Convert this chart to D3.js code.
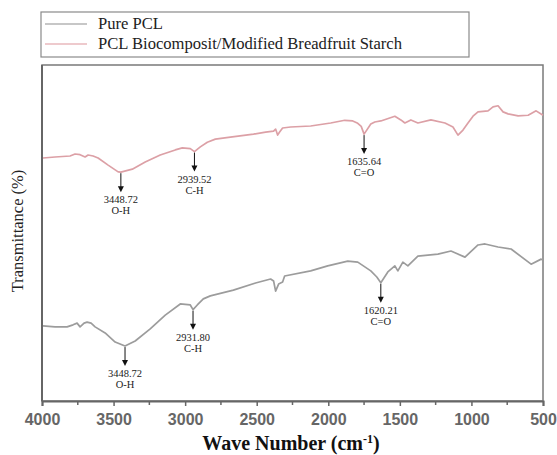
<!DOCTYPE html>
<html><head><meta charset="utf-8">
<script src="https://cdn.jsdelivr.net/npm/d3@7"></script>
<style>body{margin:0;background:#fff}</style>
</head><body><svg id="c" width="557" height="455"></svg>
<script>
const xTicks = [4000, 3500, 3000, 2500, 2000, 1500, 1000, 500];
const seriesNames = ["Pure PCL", "PCL Biocomposit/Modified Breadfruit Starch"];
const seriesColors = ["#9c9c9c", "#dca0a6"];
// PCL biocomposite (upper, pink) spectrum: wavenumber, transmittance (%)
const compWn = [3993,3909,3804,3769,3734,3699,3678,3643,3608,3538,3468,3449,3369,3279,3174,3069,3020,2964,2935,2894,2845,2789,2684,2522,2438,2382,2368,2354,2340,2319,2263,2123,1983,1885,1829,1794,1770,1750,1703,1675,1633,1535,1493,1465,1423,1374,1283,1185,1129,1094,1059,1024,989,954,884,849,814,779,744,674,604,548,500];
const compT  = [72.1,72.4,72.7,73.3,73.1,72.4,73.0,72.7,72.1,70.0,68.0,67.9,68.8,70.9,73.0,74.5,75.1,74.9,74.0,75.4,76.8,77.7,78.3,79.2,79.8,80.1,80.7,78.9,79.8,81.0,81.3,81.6,82.5,83.3,83.1,82.4,81.5,79.2,82.2,82.8,83.1,84.5,83.4,82.5,83.4,82.5,83.4,82.5,81.3,78.9,80.4,82.5,84.5,85.8,86.1,87.3,87.6,85.8,85.2,84.6,84.8,86.1,84.8];
// Pure PCL (lower, grey) spectrum
const pclWn = [3993,3909,3825,3783,3755,3734,3706,3685,3657,3629,3559,3489,3420,3349,3244,3139,3034,2964,2945,2915,2873,2824,2663,2508,2403,2382,2368,2347,2319,2305,2123,2004,1864,1794,1703,1661,1633,1584,1535,1514,1479,1444,1374,1234,1143,1045,954,905,814,723,583,513,500];
const pclT  = [22.3,22.0,22.0,22.6,23.1,22.0,23.1,23.4,23.1,22.0,20.2,17.5,16.3,17.8,21.4,25.5,28.8,28.5,27.1,28.5,30.3,31.2,32.9,35.0,36.2,35.6,32.6,34.7,35.3,37.1,38.6,40.1,41.5,41.2,38.6,36.8,35.1,38.3,40.1,38.6,41.2,40.1,43.0,43.6,44.5,42.7,46.3,46.6,45.7,45.1,40.6,42.1,41.8];
// Peak annotations: series index, position on axis, label, group
const annSeries = [1, 1, 1, 0, 0, 0];
const annWn     = [3449, 2935, 1750, 3420, 2945, 1633];
const annValue  = ["3448.72", "2939.52", "1635.64", "3448.72", "2931.80", "1620.21"];
const annGroup  = ["O-H", "C-H", "C=O", "O-H", "C-H", "C=O"];

const svg = d3.select("#c");
const L = 42, R = 543, T = 65, B = 401;
const x = d3.scaleLinear().domain([4000, 500]).range([L, R]);
const y = d3.scaleLinear().domain([0, 100]).range([B, B - 337]);

// frame
svg.append("rect").attr("x", L).attr("y", T).attr("width", R - L).attr("height", B - T)
  .attr("fill", "none").attr("stroke", "#7a7a7a").attr("stroke-width", 1.5);

const xAxis = d3.axisBottom(x).tickValues(xTicks).tickSize(5).tickFormat(d3.format("d"));
const gx = svg.append("g").attr("transform", `translate(0,${B})`).call(xAxis);
gx.select(".domain").attr("stroke", "#666").attr("stroke-width", 2);
gx.selectAll(".tick line").attr("stroke", "#666").attr("stroke-width", 1.5);
gx.selectAll(".tick text").attr("fill", "#666").attr("font-family", "Liberation Sans, Arial, sans-serif")
  .attr("font-weight", "bold").attr("font-size", 16).attr("dy", "1.0em");
// minor ticks
const minor = d3.range(3750, 500, -500);
svg.append("g").selectAll("line").data(minor).join("line")
  .attr("x1", d => x(d)).attr("x2", d => x(d)).attr("y1", B).attr("y2", B + 4)
  .attr("stroke", "#666").attr("stroke-width", 1.5);
// left axis thicker
svg.append("line").attr("x1", L).attr("x2", L).attr("y1", T).attr("y2", B)
  .attr("stroke", "#666").attr("stroke-width", 2);

const datasets = [
  pclWn.map((w, i) => [w, pclT[i]]),
  compWn.map((w, i) => [w, compT[i]])
];
const line = d3.line().x(d => x(d[0])).y(d => y(d[1])).curve(d3.curveLinear);
datasets.forEach((ds, i) => {
  svg.append("path").attr("d", line(ds)).attr("fill", "none")
    .attr("stroke", seriesColors[i]).attr("stroke-width", 1.7).attr("stroke-linejoin", "round");
});

function valueAt(ds, w) {
  const s = ds.slice().sort((a, b) => a[0] - b[0]);
  const i = d3.bisector(d => d[0]).left(s, w);
  if (i <= 0) return s[0][1];
  if (i >= s.length) return s[s.length - 1][1];
  const a = s[i - 1], b = s[i];
  return a[1] + (b[1] - a[1]) * (w - a[0]) / (b[0] - a[0]);
}

const ann = svg.append("g");
annWn.forEach((w, i) => {
  const ds = datasets[annSeries[i]];
  const px = x(w), py = y(valueAt(ds, w)) + 1;
  const tip = py + 19;
  ann.append("line").attr("x1", px).attr("x2", px).attr("y1", py).attr("y2", tip - 5)
    .attr("stroke", "#111").attr("stroke-width", 1);
  ann.append("path").attr("d", `M${px - 3},${tip - 6}L${px + 3},${tip - 6}L${px},${tip}Z`).attr("fill", "#111");
  ann.append("text").attr("x", px).attr("y", tip + 11).attr("text-anchor", "middle")
    .attr("font-family", "Liberation Serif, Times New Roman, serif").attr("font-size", 10.5).attr("fill", "#222")
    .text(annValue[i]);
  ann.append("text").attr("x", px).attr("y", tip + 22).attr("text-anchor", "middle")
    .attr("font-family", "Liberation Serif, Times New Roman, serif").attr("font-size", 10.5).attr("fill", "#222")
    .text(annGroup[i]);
});

// legend
const lg = svg.append("g");
lg.append("rect").attr("x", 41).attr("y", 12).attr("width", 428).attr("height", 45)
  .attr("fill", "#fff").attr("stroke", "#8a8a8a").attr("stroke-width", 1.2);
seriesNames.forEach((n, i) => {
  const cy = 24 + i * 20;
  lg.append("line").attr("x1", 45).attr("x2", 87).attr("y1", cy).attr("y2", cy)
    .attr("stroke", i === 0 ? "#b5b5b5" : "#e8b8bd").attr("stroke-width", 1.5);
  lg.append("text").attr("x", 98).attr("y", cy + 5).attr("font-family", "Liberation Serif, Times New Roman, serif")
    .attr("font-size", 16.6).attr("fill", "#222").text(n);
});

// axis titles
svg.append("text").attr("transform", "translate(23,231) rotate(-90)").attr("text-anchor", "middle")
  .attr("font-family", "Liberation Serif, Times New Roman, serif").attr("font-size", 16.5).attr("fill", "#222")
  .text("Transmittance (%)");
const xt = svg.append("text").attr("x", 291).attr("y", 450).attr("text-anchor", "middle")
  .attr("font-family", "Liberation Serif, Times New Roman, serif").attr("font-size", 20).attr("font-weight", "bold").attr("fill", "#111");
xt.append("tspan").text("Wave Number (cm");
xt.append("tspan").attr("dy", -7).attr("font-size", 12).text("-1");
xt.append("tspan").attr("dy", 7).text(")");
</script></body></html>
